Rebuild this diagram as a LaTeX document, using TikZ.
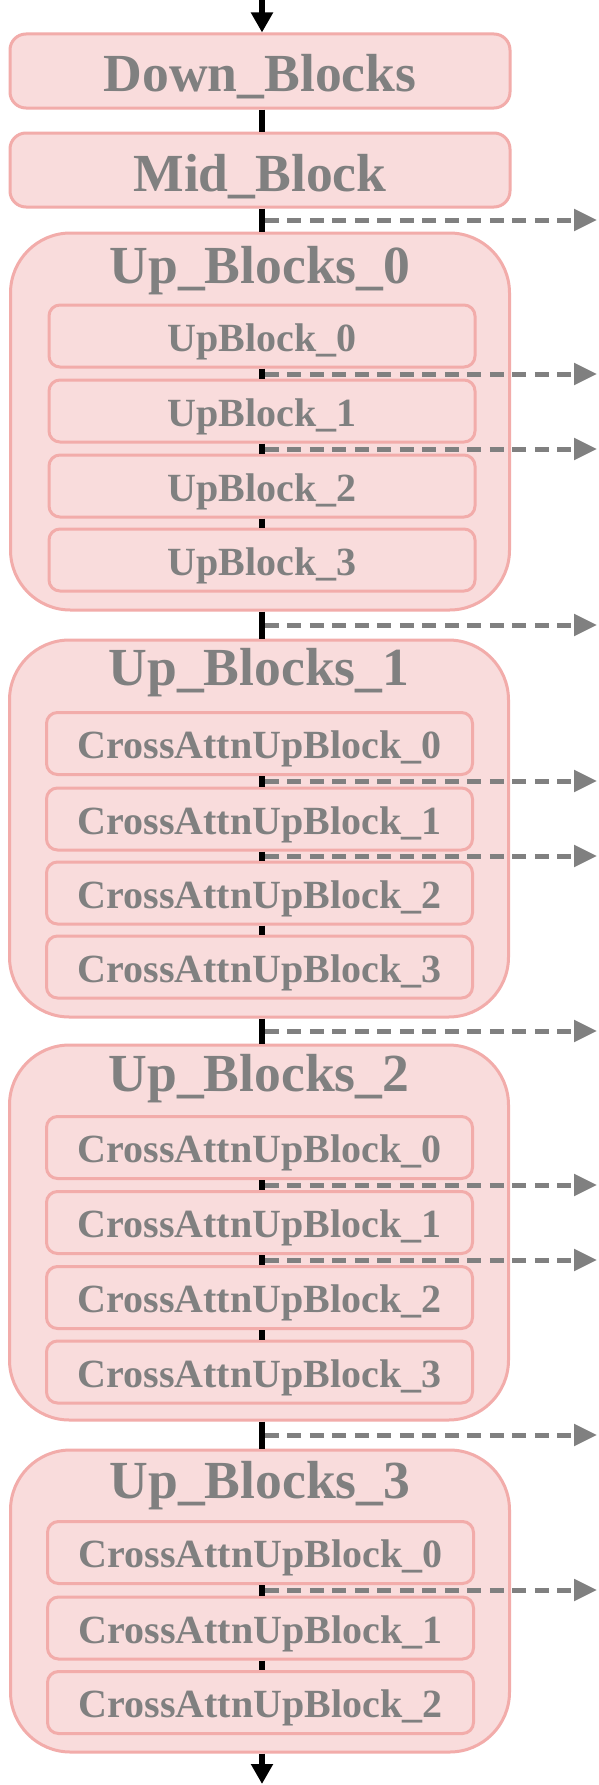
\documentclass[tikz,border=0pt]{standalone}
\usepackage{fontspec}
\setmainfont{Liberation Serif}
\usetikzlibrary{arrows.meta,calc}
\definecolor{boxfill}{HTML}{F9DCDC}
\definecolor{boxline}{HTML}{F2ACAA}
\definecolor{txtgray}{HTML}{808080}
\newcommand{\mybig}[1]{{\fontsize{53.6}{54}\selectfont\bfseries #1}}
\newcommand{\mysmall}[1]{{\fontsize{40}{40}\selectfont\bfseries #1}}
\begin{document}
\begin{tikzpicture}[x=1pt,y=-1pt,
  topbox/.style={draw=boxline, fill=boxfill, line width=3pt, rounded corners=16pt,
    minimum width=500pt, minimum height=74pt, inner sep=0pt, text=txtgray,
    text height=42pt, text depth=0pt},
  outerbox/.style={draw=boxline, fill=boxfill, line width=3pt, rounded corners=60pt,
    minimum width=499pt, inner sep=0pt},
  innerbox/.style={draw=boxline, fill=boxfill, line width=3pt, rounded corners=11pt,
    minimum width=426pt, minimum height=62pt, inner sep=0pt, text=txtgray,
    text height=30pt, text depth=0pt},
  title/.style={text=txtgray, anchor=base, inner sep=0pt},
  spine/.style={line width=5.5pt, draw=black},
  dasharr/.style={line width=5pt, draw=txtgray, dash pattern=on 14pt off 8.5pt,
    -{Triangle[length=23pt,width=21pt,fill=txtgray]}}
]
\fill[white] (0,0) rectangle (598,1785);
\useasboundingbox (0,0) rectangle (598,1785);

% top blocks
\node[topbox] (down) at (260,71) {\mybig{Down\_Blocks}};
\node[topbox] (mid) at (260,170) {\mybig{Mid\_Block}};

% Up_Blocks_0
\node[outerbox, minimum height=377pt] (u0) at (260,421.5) {};
\node[title] (u0t) at (260,283) {\mybig{Up\_Blocks\_0}};
\node[innerbox] (u0a) at (262,336) {\mysmall{UpBlock\_0}};
\node[innerbox] (u0b) at (262,411) {\mysmall{UpBlock\_1}};
\node[innerbox] (u0c) at (262,486) {\mysmall{UpBlock\_2}};
\node[innerbox] (u0d) at (262,560) {\mysmall{UpBlock\_3}};

% Up_Blocks_1
\node[outerbox, minimum height=377pt] (u1) at (259,828.5) {};
\node[title] (u1t) at (259,685) {\mybig{Up\_Blocks\_1}};
\node[innerbox] (u1a) at (259.5,743.5) {\mysmall{CrossAttnUpBlock\_0}};
\node[innerbox] (u1b) at (259.5,819) {\mysmall{CrossAttnUpBlock\_1}};
\node[innerbox] (u1c) at (259.5,893) {\mysmall{CrossAttnUpBlock\_2}};
\node[innerbox] (u1d) at (259.5,967) {\mysmall{CrossAttnUpBlock\_3}};

% Up_Blocks_2
\node[outerbox, minimum height=375pt] (u2) at (259,1232.5) {};
\node[title] (u2t) at (259,1091) {\mybig{Up\_Blocks\_2}};
\node[innerbox] (u2a) at (259.5,1147.5) {\mysmall{CrossAttnUpBlock\_0}};
\node[innerbox] (u2b) at (259.5,1222.5) {\mysmall{CrossAttnUpBlock\_1}};
\node[innerbox] (u2c) at (259.5,1297.5) {\mysmall{CrossAttnUpBlock\_2}};
\node[innerbox] (u2d) at (259.5,1372) {\mysmall{CrossAttnUpBlock\_3}};

% Up_Blocks_3
\node[outerbox, minimum height=302pt] (u3) at (260,1601) {};
\node[title] (u3t) at (260,1498) {\mybig{Up\_Blocks\_3}};
\node[innerbox] (u3a) at (260.5,1552.5) {\mysmall{CrossAttnUpBlock\_0}};
\node[innerbox] (u3b) at (260.5,1628) {\mysmall{CrossAttnUpBlock\_1}};
\node[innerbox] (u3c) at (260.5,1702.5) {\mysmall{CrossAttnUpBlock\_2}};

% coordinates
\coordinate (in) at (262,0);
\coordinate (out) at (262,1784);
\coordinate (R) at (597,0);
\coordinate (g0) at (262,220);
\coordinate (g1) at (262,374);
\coordinate (g2) at (262,449);
\coordinate (g3) at (262,625);
\coordinate (g4) at (262,781);
\coordinate (g5) at (262,856);
\coordinate (g6) at (262,1031);
\coordinate (g7) at (262,1185);
\coordinate (g8) at (262,1260);
\coordinate (g9) at (262,1435);
\coordinate (g10) at (262,1590);

% dashed outputs
\foreach \g in {g0,g1,g2,g3,g4,g5,g6,g7,g8,g9,g10}
  \draw[dasharr] ([xshift=2.8pt]\g) -- (\g -| R);

% spine
\draw[spine, -{Triangle[length=20pt,width=21pt]}] (in) -- (down.north -| in);
\draw[spine] (down.south -| in) -- (mid.north -| in);
\draw[spine] (mid.south -| in) -- (u0.north -| in);
\draw[spine] (u0a.south -| in) -- (u0b.north -| in);
\draw[spine] (u0b.south -| in) -- (u0c.north -| in);
\draw[spine] (u0c.south -| in) -- (u0d.north -| in);
\draw[spine] (u0.south -| in) -- (u1.north -| in);
\draw[spine] (u1a.south -| in) -- (u1b.north -| in);
\draw[spine] (u1b.south -| in) -- (u1c.north -| in);
\draw[spine] (u1c.south -| in) -- (u1d.north -| in);
\draw[spine] (u1.south -| in) -- (u2.north -| in);
\draw[spine] (u2a.south -| in) -- (u2b.north -| in);
\draw[spine] (u2b.south -| in) -- (u2c.north -| in);
\draw[spine] (u2c.south -| in) -- (u2d.north -| in);
\draw[spine] (u2.south -| in) -- (u3.north -| in);
\draw[spine] (u3a.south -| in) -- (u3b.north -| in);
\draw[spine] (u3b.south -| in) -- (u3c.north -| in);
\draw[spine, -{Triangle[length=20pt,width=21pt]}] (u3.south -| in) -- (out);
\end{tikzpicture}
\end{document}
